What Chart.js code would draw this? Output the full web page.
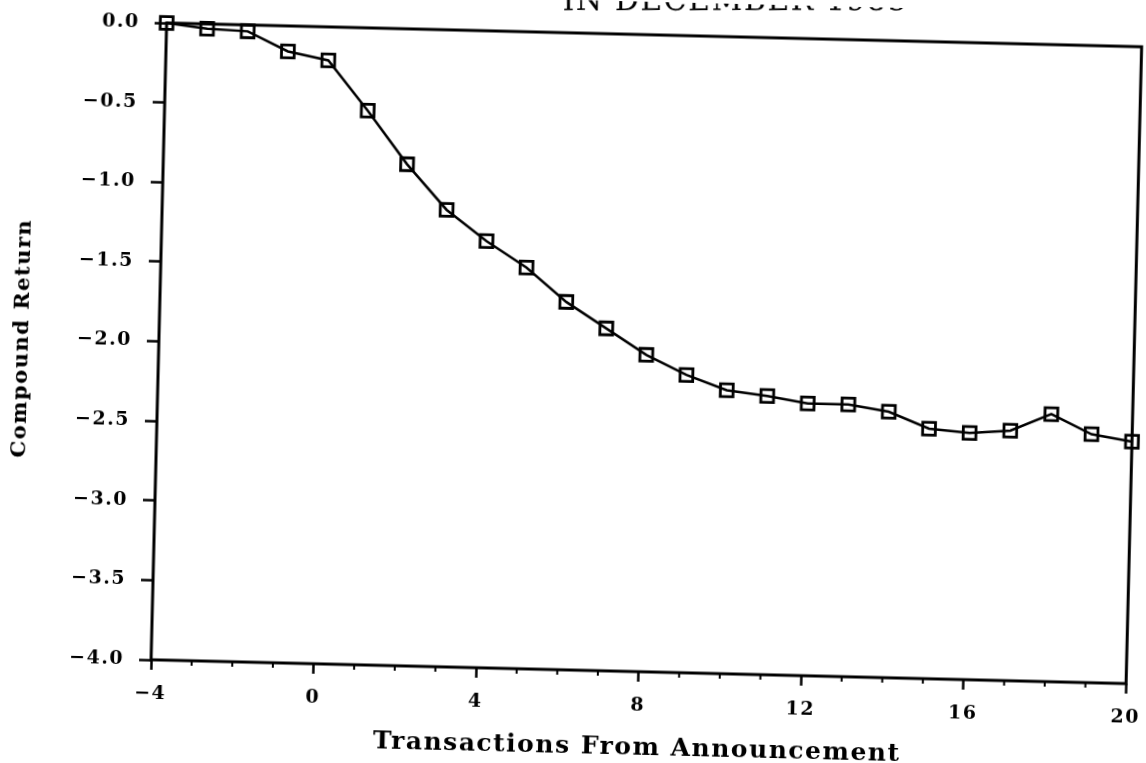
<!DOCTYPE html>
<html>
<head>
<meta charset="utf-8">
<title>Compound Return</title>
<script src="https://cdn.jsdelivr.net/npm/chart.js@4.4.0/dist/chart.umd.min.js"></script>
<style>
  html, body { margin: 0; padding: 0; background: #fff; overflow: hidden; }
  /* the scanned page sits slightly crooked */
  #page { width: 1161px; height: 763px; transform: rotate(1.4deg); transform-origin: 573px 381.5px; }
</style>
</head>
<body>
<div id="page"><canvas id="myChart" width="1161" height="763"></canvas></div>
<script>
// data
const transactions = [-4, -3, -2, -1, 0, 1, 2, 3, 4, 5, 6, 7, 8, 9, 10, 11, 12, 13, 14, 15, 16, 17, 18, 19, 20];
const compoundReturn = [0.00, -0.03, -0.04, -0.16, -0.21, -0.52, -0.85, -1.13, -1.32, -1.48, -1.69, -1.85, -2.01,
                        -2.13, -2.22, -2.25, -2.29, -2.29, -2.33, -2.43, -2.45, -2.43, -2.32, -2.44, -2.48];
const xTicks = [-4, 0, 4, 8, 12, 16, 20];
const yTicks = [0, -0.5, -1, -1.5, -2, -2.5, -3, -3.5, -4];
const titleText = 'IN DECEMBER 1985';

const labelFont = {family: 'DejaVu Serif', weight: 'bold', size: 19};
const minus = s => s.replace('-', '\u2212');
const tilt = 1.4 * Math.PI / 180;

// typewriter look: a bit of letter spacing on every text
const spacing = {
    id: 'spacing',
    beforeUpdate(chart) { chart.ctx.letterSpacing = '1.5px'; },
    beforeDraw(chart) { chart.ctx.letterSpacing = '1.5px'; }
};

// closed frame, minor ticks on the x axis and the clipped heading
const frame = {
    id: 'frame',
    beforeDatasetsDraw(chart) {
        const {ctx, chartArea: a, scales: {x}} = chart;
        ctx.save();
        ctx.strokeStyle = '#000';
        ctx.lineWidth = 3;
        ctx.strokeRect(a.left, a.top, a.right - a.left, a.bottom - a.top);

        ctx.lineWidth = 2;
        transactions.forEach(v => {
            if (v % 4 !== 0) {
                const px = x.getPixelForValue(v);
                ctx.beginPath();
                ctx.moveTo(px, a.bottom);
                ctx.lineTo(px, a.bottom + 5);
                ctx.stroke();
            }
        });

        // heading was typed straight, only its lower edge is on the page
        ctx.translate(899, 2);
        ctx.rotate(-tilt);
        ctx.font = '30px "DejaVu Serif"';
        ctx.fillStyle = '#000';
        ctx.textAlign = 'right';
        ctx.textBaseline = 'alphabetic';
        ctx.fillText(titleText, 0, 0);
        ctx.restore();
    }
};

const ctx = document.getElementById('myChart').getContext('2d');
const chart = new Chart(ctx, {
    type: 'line',
    data: {
        datasets: [{
            label: 'Compound Return',
            data: transactions.map((t, i) => ({x: t, y: compoundReturn[i]})),
            borderColor: '#000',
            borderWidth: 2.5,
            tension: 0,
            fill: false,
            clip: false,
            pointStyle: 'rect',
            pointRadius: 9,
            pointBorderWidth: 2.8,
            pointBorderColor: '#000',
            pointBackgroundColor: 'rgba(0,0,0,0)'
        }]
    },
    options: {
        responsive: false,
        animation: false,
        layout: {padding: {top: 33, right: 0, bottom: 0, left: 0}},
        plugins: {
            legend: {display: false},
            tooltip: {enabled: false}
        },
        scales: {
            x: {
                type: 'linear',
                min: -4,
                max: 20,
                afterBuildTicks: s => { s.ticks = xTicks.map(v => ({value: v})); },
                afterFit: s => { s.height = 93; },
                border: {display: false},
                grid: {drawOnChartArea: false, tickLength: 10, tickWidth: 2.5, tickColor: '#000'},
                ticks: {
                    color: '#000',
                    font: labelFont,
                    padding: 13,
                    maxRotation: 0,
                    autoSkip: false,
                    callback: v => minus(String(v))
                },
                title: {
                    display: true,
                    text: 'Transactions From Announcement',
                    color: '#000',
                    font: {family: 'DejaVu Serif', weight: 'bold', size: 25},
                    padding: {top: 0, bottom: 2}
                }
            },
            y: {
                min: -4,
                max: 0,
                afterBuildTicks: s => { s.ticks = yTicks.map(v => ({value: v})); },
                afterFit: s => { s.width = 158; },
                border: {display: false},
                grid: {drawOnChartArea: false, tickLength: 12, tickWidth: 2.5, tickColor: '#000'},
                ticks: {
                    color: '#000',
                    font: labelFont,
                    padding: 15,
                    callback: v => minus(Number(v).toFixed(1))
                },
                title: {
                    display: true,
                    text: 'Compound Return',
                    color: '#000',
                    font: {family: 'DejaVu Serif', weight: 'bold', size: 21},
                    padding: {top: 9, bottom: 0}
                }
            }
        }
    },
    plugins: [spacing, frame]
});
</script>
</body>
</html>
